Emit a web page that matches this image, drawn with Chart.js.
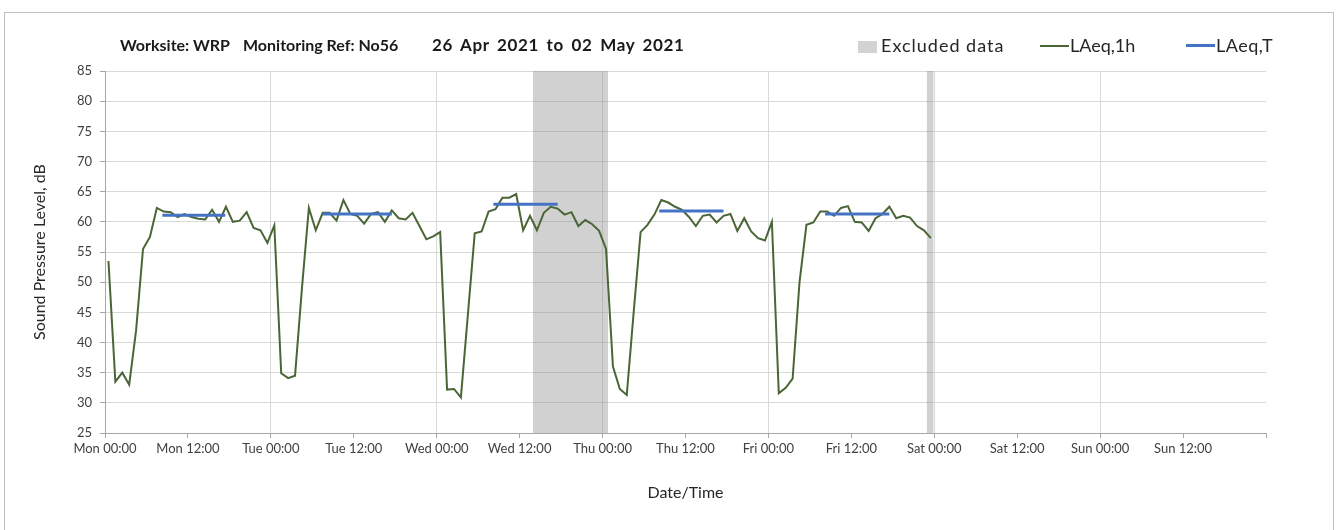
<!DOCTYPE html>
<html>
<head>
<meta charset="utf-8">
<title>Worksite WRP - No56</title>
<script src="https://cdn.jsdelivr.net/npm/chart.js@4.4.1/dist/chart.umd.min.js"></script>
<style>
  body { margin: 0; background: #fff; font-family: Lato, "Open Sans", sans-serif; }
  .cont { position: relative; width: 1336px; height: 530px; overflow: hidden; }
  .frame { position: absolute; left: 4px; top: 12px; width: 1328px; height: 560px; border: 1px solid #bfbfbf; }
  canvas { position: absolute; left: 0; top: 0; }
  .titolo span { position: absolute; top: 35px; font-size: 16px; font-weight: bold; color: #1a1a1a; white-space: nowrap; }
  .legenda .voce { position: absolute; top: 34px; font-size: 18px; color: #262626; white-space: nowrap; }
  .legenda .box { display: inline-block; width: 19px; height: 12px; background: #d3d3d3; margin-right: 4px; vertical-align: -1px; }
  .legenda .linea { display: inline-block; width: 29px; height: 0; margin-right: 1px; vertical-align: 5px; }
</style>
</head>
<body>
<div class="cont">
  <div class="frame"></div>
  <canvas id="chartLaeq" width="1336" height="530"></canvas>
  <div class="titolo">
    <span style="left:120px">Worksite: WRP</span>
    <span style="left:243px">Monitoring Ref: No56</span>
    <span style="left:432px; font-size:17px; top:34px; letter-spacing:0.6px; word-spacing:3px">26 Apr 2021 to 02 May 2021</span>
  </div>
  <div class="legenda">
    <span class="voce" style="left:858px; letter-spacing:1px"><span class="box"></span>Excluded data</span>
    <span class="voce" style="left:1040px"><span class="linea" style="border-top:2px solid #4a6636"></span>LAeq,1h</span>
    <span class="voce" style="left:1186px; letter-spacing:0.5px"><span class="linea" style="border-top:3px solid #4472c4"></span>LAeq,T</span>
  </div>
</div>
<script>
// livelli orari LAeq,1h da lun 00:00 a ven 23:00 (dB)
var laeq1h = [
  53.5, 33.5, 35, 33, 42, 55.5, 57.5, 62.3, 61.7, 61.6, 60.8, 61.3, 60.8, 60.5, 60.4, 62, 60, 62.5, 60, 60.2, 61.6, 59, 58.6, 56.5,
  59.4, 34.9, 34.1, 34.5, 49, 62.3, 58.6, 61.5, 61.5, 60.2, 63.6, 61.3, 61, 59.7, 61.3, 61.6, 60, 61.9, 60.6, 60.4, 61.5, 59.3, 57.1, 57.6,
  58.3, 32.2, 32.3, 30.9, 44.5, 58.1, 58.4, 61.7, 62.1, 64, 64, 64.6, 58.6, 61, 58.6, 61.5, 62.5, 62.2, 61.2, 61.6, 59.3, 60.3, 59.6, 58.5,
  55.5, 36, 32.3, 31.3, 45, 58.3, 59.5, 61.2, 63.6, 63.2, 62.5, 62, 60.8, 59.3, 61, 61.2, 59.9, 61, 61.3, 58.5, 60.6, 58.4, 57.3, 56.9,
  60, 31.6, 32.5, 34, 50, 59.5, 59.9, 61.7, 61.7, 61, 62.3, 62.6, 60, 59.9, 58.5, 60.6, 61.3, 62.5, 60.6, 61, 60.7, 59.3, 58.6, 57.3
];
var hourOffset = 0.5;

// LAeq,T diurno per ogni giorno (ore dall'inizio settimana)
var dayStart = [8.3, 31.5, 56.2, 80.2, 104.2];
var dayEnd = [17.4, 41.5, 65.5, 89.5, 113.5];
var laeqT = [61.1, 61.3, 62.9, 61.8, 61.3];

// periodi esclusi (ore)
var exclStart = [61.9, 118.9];
var exclEnd = [72.8, 119.9];

var tickLabels = ['Mon 00:00', 'Mon 12:00', 'Tue 00:00', 'Tue 12:00', 'Wed 00:00', 'Wed 12:00', 'Thu 00:00',
  'Thu 12:00', 'Fri 00:00', 'Fri 12:00', 'Sat 00:00', 'Sat 12:00', 'Sun 00:00', 'Sun 12:00', ''];

var yMin = 25;
var yMax = 85;

//Funzione per costruire i punti della linea oraria
function hourlyPoints() {
  var pts = [];
  for (var i = 0; i < laeq1h.length; i++) {
    pts.push({ x: i + hourOffset, y: laeq1h[i] });
  }
  return pts;
}

//Funzione per i segmenti LAeq,T (separati da null)
function dayPoints() {
  var pts = [];
  for (var i = 0; i < laeqT.length; i++) {
    pts.push({ x: dayStart[i], y: laeqT[i] });
    pts.push({ x: dayEnd[i], y: laeqT[i] });
    pts.push({ x: dayEnd[i] + 0.1, y: null });
  }
  return pts;
}

//Funzione per le bande grigie dei dati esclusi
function exclDatasets() {
  var sets = [];
  for (var i = 0; i < exclStart.length; i++) {
    sets.push({
      label: 'Excluded data',
      data: [{ x: exclStart[i], y: yMax }, { x: exclEnd[i], y: yMax }],
      borderWidth: 0,
      borderColor: 'rgba(0,0,0,0)',
      backgroundColor: 'rgba(140,140,140,0.4)',
      fill: 'start',
      pointRadius: 0
    });
  }
  return sets;
}

function chart() {
  var ctx = document.getElementById('chartLaeq').getContext('2d');
  var tickFont = { family: 'Lato', size: 13 };
  var titleFont = { family: 'Lato', size: 16 };

  var datasets = [
    {
      label: 'LAeq,T',
      data: dayPoints(),
      borderColor: '#4472c4',
      borderWidth: 3,
      pointRadius: 0,
      spanGaps: false,
      fill: false
    },
    {
      label: 'LAeq,1h',
      data: hourlyPoints(),
      borderColor: '#4a6636',
      borderWidth: 2,
      pointRadius: 0,
      tension: 0,
      fill: false
    }
  ].concat(exclDatasets());

  new Chart(ctx, {
    type: 'line',
    data: { datasets: datasets },
    options: {
      responsive: false,
      animation: false,
      layout: { padding: { top: 71, right: 70, bottom: 0, left: 0 } },
      plugins: {
        legend: { display: false },
        tooltip: { enabled: false }
      },
      scales: {
        x: {
          type: 'linear',
          min: 0,
          max: 168,
          afterFit: function (scale) { scale.height = 97; },
          ticks: {
            stepSize: 12,
            autoSkip: false,
            maxRotation: 0,
            padding: 3,
            color: '#404040',
            font: tickFont,
            callback: function (v) { return tickLabels[v / 12]; }
          },
          grid: {
            color: function (c) {
              if (c.tick && c.tick.value % 24 === 0 && c.tick.value < 168) return '#d9d9d9';
              return 'rgba(0,0,0,0)';
            },
            tickColor: '#a6a6a6',
            tickLength: 5
          },
          border: { color: '#a6a6a6' },
          title: {
            display: true,
            text: 'Date/Time',
            color: '#262626',
            font: titleFont,
            padding: { top: 0, bottom: 28 }
          }
        },
        y: {
          min: yMin,
          max: yMax,
          afterFit: function (scale) { scale.width = 105; },
          ticks: {
            stepSize: 5,
            padding: 8,
            color: '#404040',
            font: tickFont
          },
          grid: {
            color: '#d9d9d9',
            tickColor: '#a6a6a6',
            tickLength: 5
          },
          border: { color: '#a6a6a6' },
          title: {
            display: true,
            text: 'Sound Pressure Level, dB',
            color: '#262626',
            font: titleFont,
            padding: { top: 30, bottom: 0 }
          }
        }
      }
    }
  });
}

chart();
</script>
</body>
</html>
